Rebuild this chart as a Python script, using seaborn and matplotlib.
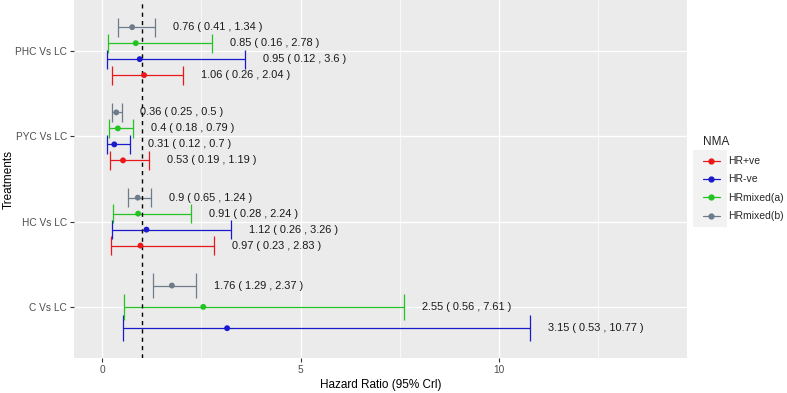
import numpy as np
import pandas as pd
import matplotlib.pyplot as plt
import seaborn as sns
from matplotlib.lines import Line2D
from matplotlib.patches import Rectangle

# 比較（下から上の順）
comparisons = ["C Vs LC", "HC Vs LC", "PYC Vs LC", "PHC Vs LC"]
series = ["HR+ve", "HR-ve", "HRmixed(a)", "HRmixed(b)"]

# 各NMAのハザード比と95% CrI（comparisonsの順）
hr_pos = [np.nan, 0.97, 0.53, 1.06]
hr_pos_lo = [np.nan, 0.23, 0.19, 0.26]
hr_pos_hi = [np.nan, 2.83, 1.19, 2.04]

hr_neg = [3.15, 1.12, 0.31, 0.95]
hr_neg_lo = [0.53, 0.26, 0.12, 0.12]
hr_neg_hi = [10.77, 3.26, 0.70, 3.60]

hr_mix_a = [2.55, 0.91, 0.40, 0.85]
hr_mix_a_lo = [0.56, 0.28, 0.18, 0.16]
hr_mix_a_hi = [7.61, 2.24, 0.79, 2.78]

hr_mix_b = [1.76, 0.90, 0.36, 0.76]
hr_mix_b_lo = [1.29, 0.65, 0.25, 0.41]
hr_mix_b_hi = [2.37, 1.24, 0.50, 1.34]

colors = {"HR+ve": "#E81818", "HR-ve": "#1A1ACC",
          "HRmixed(a)": "#22C322", "HRmixed(b)": "#6E7B8B"}

# ロング形式のデータ作成
rows = []
for name, hr, lo, hi in [("HR+ve", hr_pos, hr_pos_lo, hr_pos_hi),
                         ("HR-ve", hr_neg, hr_neg_lo, hr_neg_hi),
                         ("HRmixed(a)", hr_mix_a, hr_mix_a_lo, hr_mix_a_hi),
                         ("HRmixed(b)", hr_mix_b, hr_mix_b_lo, hr_mix_b_hi)]:
    for i, comp in enumerate(comparisons):
        rows.append({"comparison": comp, "series": name, "hr": hr[i], "lo": lo[i], "hi": hi[i]})
df = pd.DataFrame(rows).dropna().reset_index(drop=True)

# ggplotのposition_dodge風にy位置をずらす
dodge = 0.75
df["ypos"] = 0.0
df["cap"] = 0.0
for i, comp in enumerate(comparisons):
    idx = df.index[df["comparison"] == comp]
    n = len(idx)
    step = dodge / n
    for k, j in enumerate(idx):
        df.loc[j, "ypos"] = i + (k - (n - 1) / 2) * step
        df.loc[j, "cap"] = 0.9 / n

sns.set_theme(style="darkgrid", rc={
    "axes.facecolor": "#EBEBEB", "grid.color": "white", "axes.edgecolor": "none"})
plt.rcParams["font.family"] = ["Liberation Sans", "DejaVu Sans"]

fig = plt.figure(figsize=(7.87, 3.93), dpi=100)
ax = fig.add_axes([0.094, 0.089, 0.779, 0.911])

for _, r in df.iterrows():
    c = colors[r["series"]]
    ax.hlines(r["ypos"], r["lo"], r["hi"], color=c, lw=0.9, zorder=3)
    ax.vlines([r["lo"], r["hi"]], r["ypos"] - r["cap"] / 2, r["ypos"] + r["cap"] / 2,
              color=c, lw=0.9, zorder=3)
    label = f"{r['hr']:g} ( {r['lo']:g} , {r['hi']:g} )"
    ax.text(r["hi"] + 0.45, r["ypos"], label, ha="left", va="center",
            fontsize=7.9, color="#1A1A1A", zorder=5)

sns.scatterplot(data=df, x="hr", y="ypos", hue="series", palette=colors,
                s=18, edgecolor="none", legend=False, zorder=4, ax=ax)

ax.axvline(1, color="black", lw=1.0, ls=(0, (3, 3)), zorder=3)

ax.set_xlim(-0.705, 14.73)
ax.set_ylim(-0.6, 3.6)
ax.set_xticks([0, 5, 10])
ax.set_xticks([2.5, 7.5, 12.5], minor=True)
ax.set_yticks(range(len(comparisons)))
ax.set_yticklabels(comparisons)
ax.grid(True, which="major", color="white", lw=1.0)
ax.grid(True, which="minor", axis="x", color="white", lw=0.5)
ax.tick_params(axis="both", which="major", length=3, width=0.8, color="#333333",
               labelsize=7.3, labelcolor="#4D4D4D", pad=2, left=True, bottom=True)
ax.tick_params(axis="both", which="minor", length=0)
ax.set_xlabel("Hazard Ratio (95% Crl)", fontsize=8.5, color="black", labelpad=3)
ax.set_ylabel("Treatments", fontsize=8.5, color="black")
ax.yaxis.set_label_coords(-0.096, 0.5)

# 凡例キーの背景
fig.patches.append(Rectangle((693 / 787, 1 - 227 / 393), 34 / 787, 77 / 393,
                             transform=fig.transFigure, facecolor="#F2F2F2",
                             edgecolor="none", zorder=0))

handles = [Line2D([0], [0], color=colors[s], lw=0.9, marker="o", markersize=3.5) for s in series]
leg = fig.legend(handles, series, title="NMA", loc="upper left",
                 bbox_to_anchor=(0.888, 0.665), frameon=False, fontsize=7.5,
                 title_fontsize=8.5, handlelength=1.6, handletextpad=0.8,
                 labelspacing=0.8, borderaxespad=0)
leg._legend_box.align = "left"

fig.savefig("out.png", dpi=100)
